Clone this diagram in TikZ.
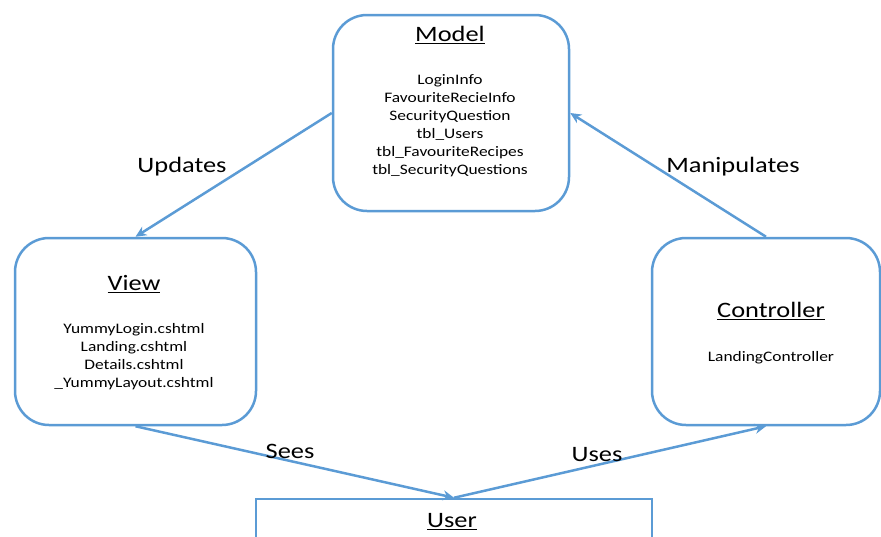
\documentclass[tikz,border=0pt]{standalone}
\usepackage{fontspec}
\setmainfont{Carlito}
\usetikzlibrary{arrows.meta}
\definecolor{mvcblue}{HTML}{5B9BD5}
\tikzset{
  box/.style={draw=mvcblue, line width=2.5pt, rounded corners=34pt, fill=white, inner sep=0pt},
  plainbox/.style={draw=mvcblue, line width=2.5pt, fill=white, inner sep=0pt},
  conn/.style={draw=mvcblue, line width=2.5pt, -{Stealth[length=11pt,width=10pt]}},
  titletxt/.style={font=\fontsize{22}{26}\selectfont, transform shape, xscale=1.2, inner sep=0pt},
  itemtxt/.style={font=\fontsize{14.5}{18}\selectfont, align=center, transform shape, xscale=1.2, inner sep=0pt},
  lbl/.style={font=\fontsize{22}{26}\selectfont, transform shape, xscale=1.2, inner sep=0pt}
}
\begin{document}
\begin{tikzpicture}[x=1pt,y=-1pt]
\useasboundingbox (0,0) rectangle (881,536);
\clip (0,0) rectangle (881,536);
% boxes
\node[box, minimum width=236pt, minimum height=196pt] (model) at (451,113) {};
\node[box, minimum width=241pt, minimum height=187pt] (view) at (135.5,331.5) {};
\node[box, minimum width=228pt, minimum height=187pt] (ctrl) at (766,331.5) {};
\node[plainbox, minimum width=396pt, minimum height=70pt] (user) at (454,534) {};
% texts
\node[titletxt] (modelT) at (450,35) {\underline{Model}};
\node[itemtxt] (modelI) at (450,125.5) {LoginInfo\\FavouriteRecieInfo\\SecurityQuestion\\tbl\_Users\\tbl\_FavouriteRecipes\\tbl\_SecurityQuestions};
\node[titletxt] (viewT) at (134,284) {\underline{View}};
\node[itemtxt] (viewI) at (134,357) {YummyLogin.cshtml\\Landing.cshtml\\Details.cshtml\\\_YummyLayout.cshtml};
\node[titletxt] (ctrlT) at (771,311) {\underline{Controller}};
\node[itemtxt] (ctrlI) at (771,358) {LandingController};
\node[titletxt] (userT) at (452,522) {\underline{User}};
% connectors
\draw[conn] (model.west) -- (view.north);
\draw[conn] (ctrl.north) -- (model.east);
\draw[conn] (view.south) -- (user.north);
\draw[conn] (user.north) -- (ctrl.south);
% labels
\node[lbl] (lupd) at (182,167) {Updates};
\node[lbl] (lman) at (733,167) {Manipulates};
\node[lbl] (lsee) at (290,451) {Sees};
\node[lbl] (luse) at (597,455) {Uses};
\end{tikzpicture}
\end{document}
